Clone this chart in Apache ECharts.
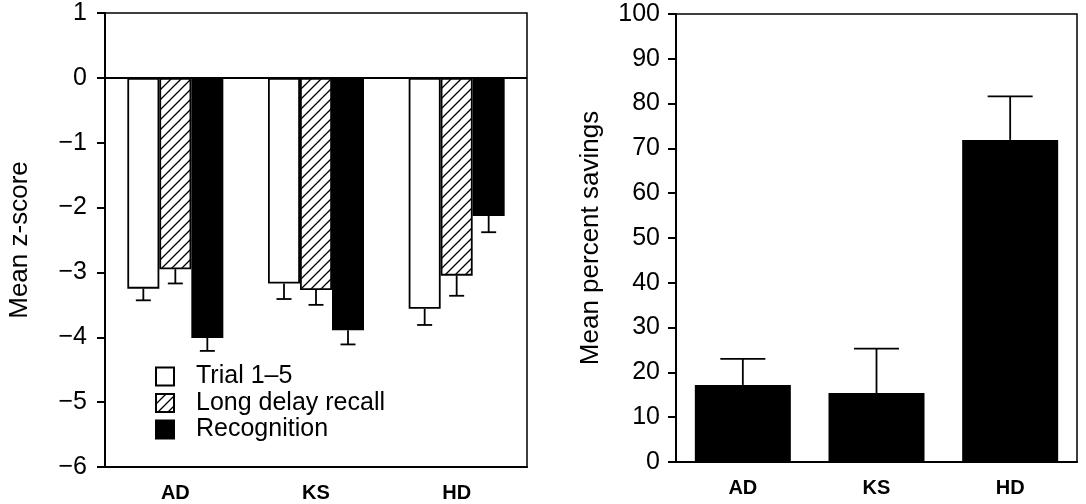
<!DOCTYPE html>
<html>
<head>
<meta charset="utf-8">
<script src="https://cdn.jsdelivr.net/npm/echarts@6/dist/echarts.min.js"></script>
<style>
  html, body { margin: 0; padding: 0; background: #fff; }
  #chart { width: 1086px; height: 504px; }
</style>
</head>
<body>
<div id="chart"></div>
<script>
// groups on both panels
const groups = ['AD', 'KS', 'HD']

// left panel: mean z-scores and error sizes
const trialMean = [-3.25, -3.17, -3.56]
const trialErr = [0.18, 0.24, 0.25]
const recallMean = [-2.95, -3.27, -3.05]
const recallErr = [0.22, 0.23, 0.31]
const recogMean = [-4.01, -3.89, -2.13]
const recogErr = [0.2, 0.22, 0.25]

// right panel: mean percent savings
const savingsMean = [17.2, 15.4, 71.9]
const savingsErr = [5.8, 9.9, 9.7]

const zTicks = { min: -6, max: 1, step: 1 }
const pctTicks = { min: 0, max: 100, step: 10 }

const FONT = 'Liberation Sans, Arial, Helvetica, sans-serif'

/** diagonal hatch used for the long delay recall bars */
function makeHatch () {
  const c = document.createElement('canvas')
  c.width = 10
  c.height = 10
  const ctx = c.getContext('2d')
  ctx.fillStyle = '#fff'
  ctx.fillRect(0, 0, 10, 10)
  ctx.strokeStyle = '#000'
  ctx.lineWidth = 1.3
  ctx.beginPath()
  ctx.moveTo(0, 10); ctx.lineTo(10, 0)
  ctx.moveTo(-5, 5); ctx.lineTo(5, -5)
  ctx.moveTo(5, 15); ctx.lineTo(15, 5)
  ctx.stroke()
  return c
}

/** error bar series, drawn downward or upward from the mean */
function errorSeries (means, errs, dir, offset, capWidth, xIdx, yIdx) {
  const data = means.map((m, i) => [i, m, m + dir * errs[i]])
  return {
    type: 'custom',
    xAxisIndex: xIdx,
    yAxisIndex: yIdx,
    silent: true,
    z: 1,
    data: data,
    renderItem: function (params, api) {
      const p0 = api.coord([api.value(0), api.value(1)])
      const p1 = api.coord([api.value(0), api.value(2)])
      const x = p0[0] + offset
      const style = { stroke: '#000', lineWidth: 1.8 }
      return {
        type: 'group',
        children: [
          { type: 'line', shape: { x1: x, y1: p0[1], x2: x, y2: p1[1] }, style: style },
          { type: 'line', shape: { x1: x - capWidth / 2, y1: p1[1], x2: x + capWidth / 2, y2: p1[1] }, style: style }
        ]
      }
    }
  }
}

const chart = echarts.init(document.getElementById('chart'), null, { renderer: 'canvas' })

const axisLine = { show: true, lineStyle: { color: '#000', width: 2 } }
const tickLabel = {
  color: '#000',
  fontFamily: FONT,
  fontSize: 25,
  margin: 18,
  formatter: v => String(v).replace('-', '\u2212')
}
const catLabel = { color: '#000', fontFamily: FONT, fontSize: 20, fontWeight: 'bold', margin: 16 }
const nameStyle = { color: '#000', fontFamily: FONT, fontSize: 26 }
const barW = 32

const option = {
  animation: false,
  backgroundColor: '#fff',
  grid: [
    { left: 105, top: 13, width: 422, height: 454, show: true, borderColor: '#000', borderWidth: 1.5, backgroundColor: 'transparent' },
    { left: 676, top: 14, width: 401, height: 448, show: true, borderColor: '#000', borderWidth: 1.5, backgroundColor: 'transparent' }
  ],
  legend: {
    data: ['Trial 1\u20135', 'Long delay recall', 'Recognition'],
    orient: 'vertical',
    left: 150,
    top: 359,
    itemWidth: 18,
    itemHeight: 18,
    itemGap: 1.5,
    icon: 'rect',
    textStyle: { color: '#000', fontFamily: FONT, fontSize: 25, padding: [0, 0, 0, 17] }
  },
  xAxis: [
    {
      type: 'category',
      gridIndex: 0,
      data: groups,
      axisLine: Object.assign({ onZero: false }, axisLine),
      axisTick: { show: false },
      axisLabel: catLabel
    },
    {
      type: 'category',
      gridIndex: 1,
      data: groups,
      axisLine: Object.assign({ onZero: false }, axisLine),
      axisTick: { show: false },
      axisLabel: catLabel
    }
  ],
  yAxis: [
    {
      type: 'value',
      gridIndex: 0,
      min: zTicks.min,
      max: zTicks.max,
      interval: zTicks.step,
      name: 'Mean z-score',
      nameLocation: 'middle',
      nameGap: 72,
      nameTextStyle: nameStyle,
      axisLine: axisLine,
      axisTick: { show: true, length: 8, lineStyle: { color: '#000', width: 2 } },
      axisLabel: tickLabel,
      splitLine: { show: false }
    },
    {
      type: 'value',
      gridIndex: 1,
      min: pctTicks.min,
      max: pctTicks.max,
      interval: pctTicks.step,
      name: 'Mean percent savings',
      nameLocation: 'middle',
      nameGap: 72,
      nameTextStyle: nameStyle,
      axisLine: axisLine,
      axisTick: { show: true, length: 8, lineStyle: { color: '#000', width: 2 } },
      axisLabel: Object.assign({}, tickLabel, { margin: 16 }),
      splitLine: { show: false }
    }
  ],
  series: [
    {
      name: 'Trial 1\u20135',
      type: 'bar',
      xAxisIndex: 0,
      yAxisIndex: 0,
      barWidth: barW,
      barGap: '0%',
      z: 2,
      itemStyle: { color: '#fff', borderColor: '#000', borderWidth: 1.8 },
      data: trialMean,
      markLine: {
        silent: true,
        symbol: 'none',
        label: { show: false },
        lineStyle: { color: '#000', width: 2, type: 'solid' },
        data: [{ yAxis: 0 }]
      }
    },
    {
      name: 'Long delay recall',
      type: 'bar',
      xAxisIndex: 0,
      yAxisIndex: 0,
      barWidth: barW,
      barGap: '0%',
      z: 2,
      itemStyle: { color: { image: makeHatch(), repeat: 'repeat' }, borderColor: '#000', borderWidth: 1.8 },
      data: recallMean
    },
    {
      name: 'Recognition',
      type: 'bar',
      xAxisIndex: 0,
      yAxisIndex: 0,
      barWidth: barW,
      barGap: '0%',
      z: 2,
      itemStyle: { color: '#000', borderColor: '#000', borderWidth: 1.8 },
      data: recogMean
    },
    errorSeries(trialMean, trialErr, -1, -barW, 15, 0, 0),
    errorSeries(recallMean, recallErr, -1, 0, 15, 0, 0),
    errorSeries(recogMean, recogErr, -1, barW, 15, 0, 0),
    {
      name: 'Savings',
      type: 'bar',
      xAxisIndex: 1,
      yAxisIndex: 1,
      barWidth: 96,
      z: 2,
      itemStyle: { color: '#000' },
      data: savingsMean
    },
    errorSeries(savingsMean, savingsErr, 1, 0, 45, 1, 1)
  ]
}

chart.setOption(option)
</script>
</body>
</html>
